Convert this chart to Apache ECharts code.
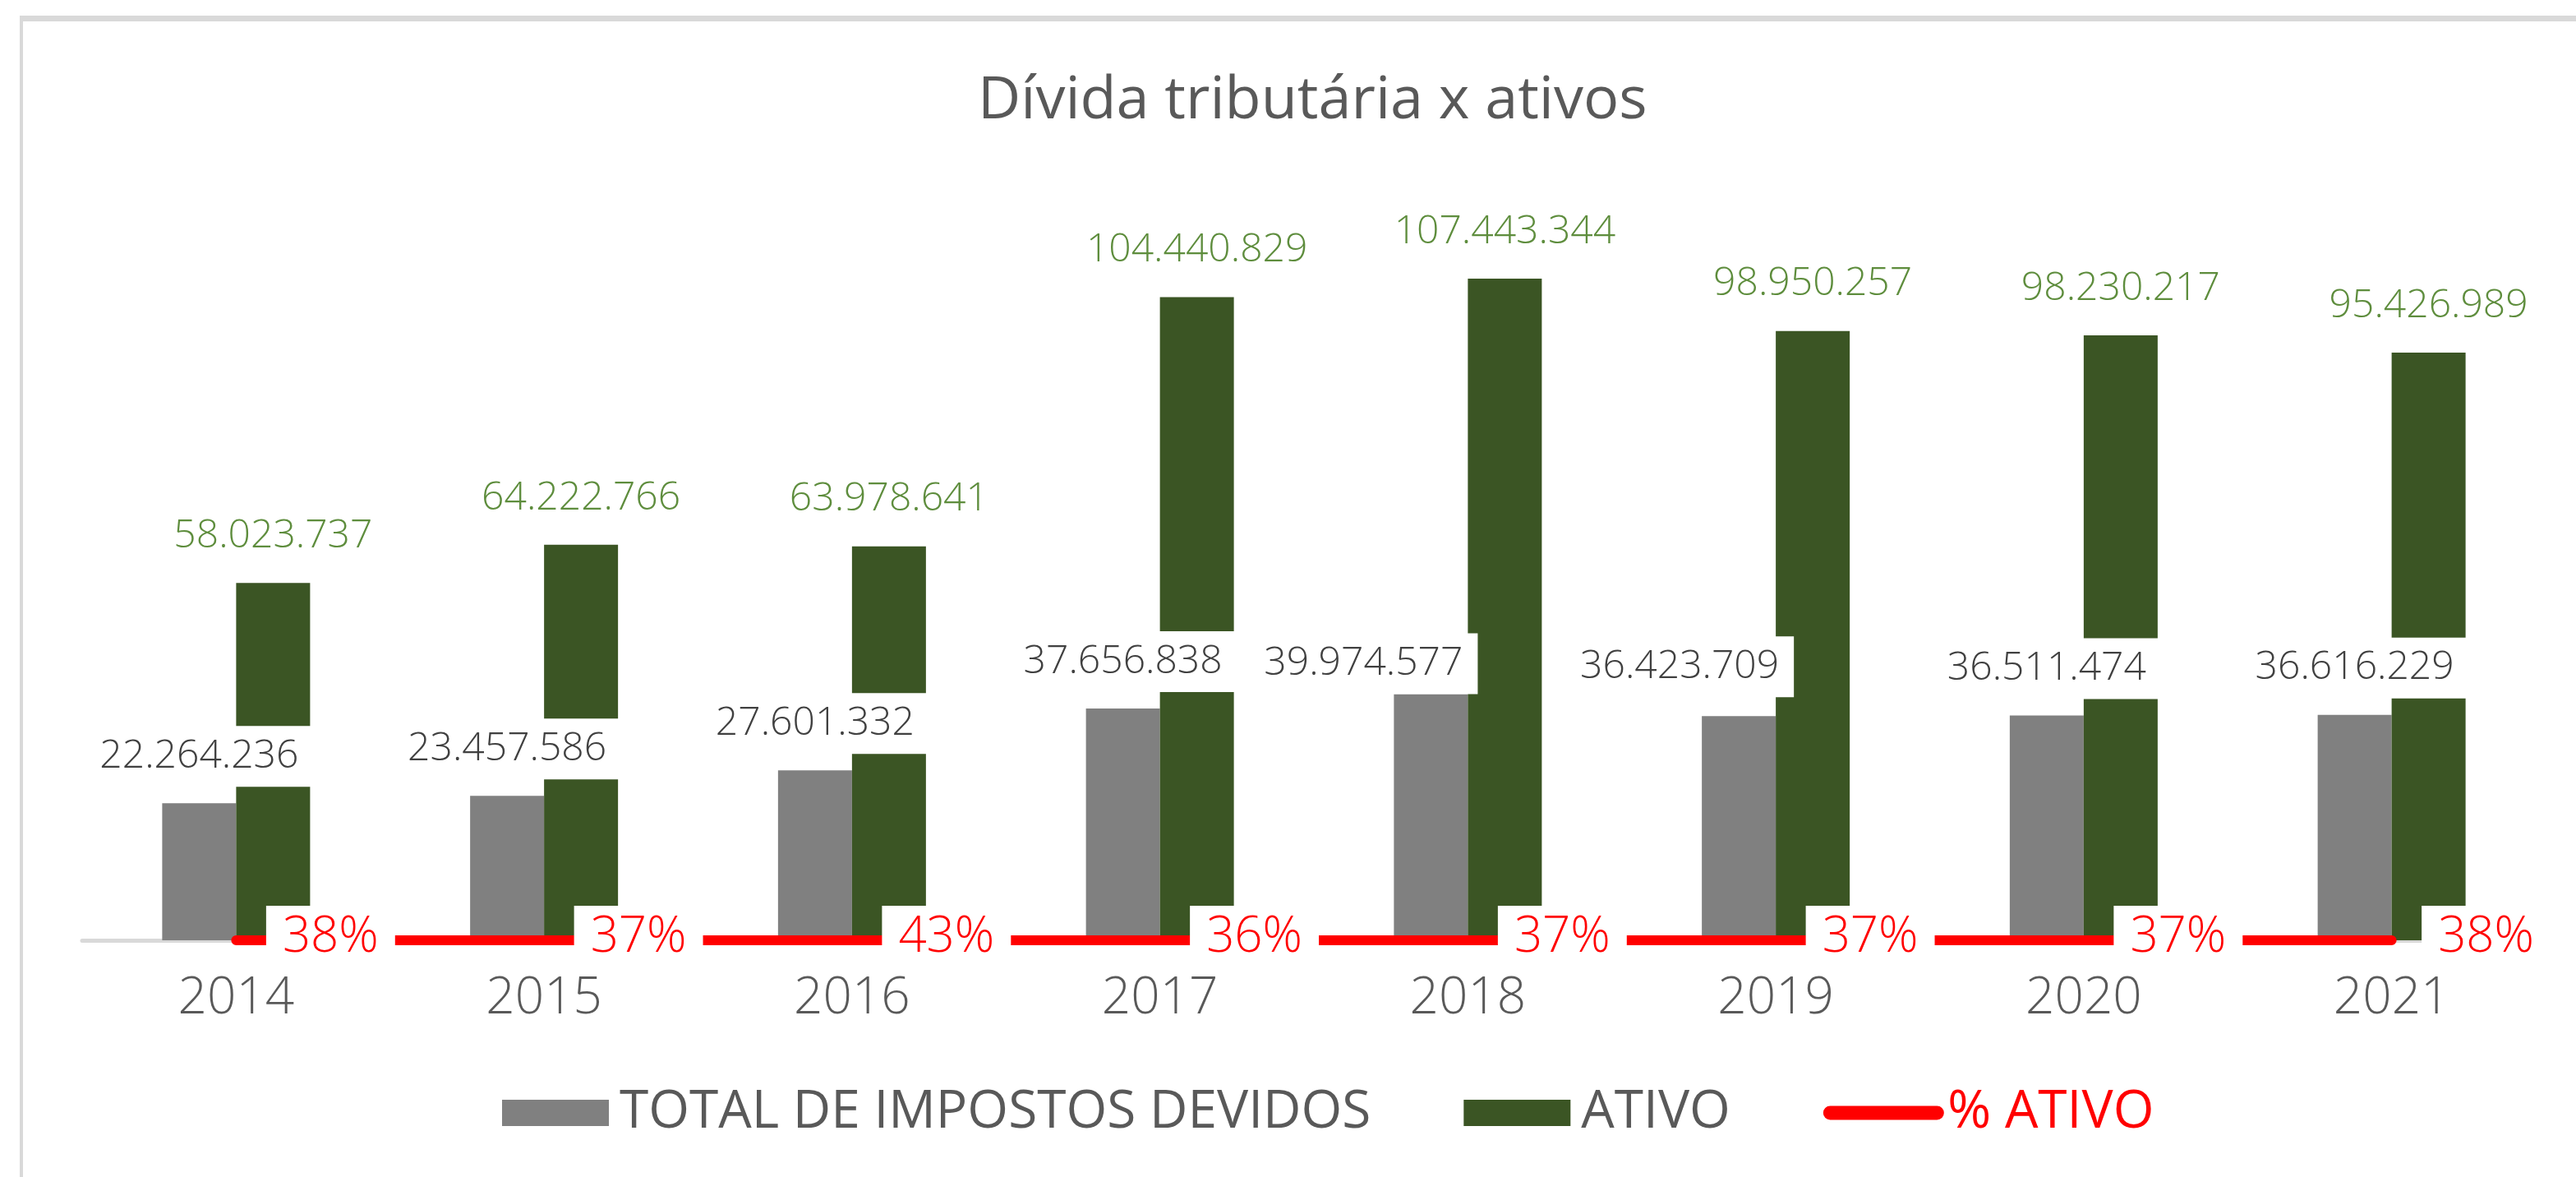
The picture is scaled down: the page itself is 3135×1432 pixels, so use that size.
<!DOCTYPE html>
<html>
<head>
<meta charset="utf-8">
<script src="https://cdn.jsdelivr.net/npm/echarts@6/dist/echarts.min.js"></script>
<style>
  html, body { margin: 0; padding: 0; background: #ffffff; }
  #chart { width: 3135px; height: 1432px; }
</style>
</head>
<body>
<div id="chart"></div>
<script>
// ---- data ----
const years = ['2014', '2015', '2016', '2017', '2018', '2019', '2020', '2021'];
const totalImpostos = [22264236, 23457586, 27601332, 37656838, 39974577, 36423709, 36511474, 36616229];
const ativo = [58023737, 64222766, 63978641, 104440829, 107443344, 98950257, 98230217, 95426989];
const pctAtivo = [38, 37, 43, 36, 37, 37, 37, 38];
const seriesNames = ['TOTAL DE IMPOSTOS DEVIDOS', 'ATIVO', '% ATIVO'];

// manual label nudges (as moved in the original chart)
const grayLabelShift = [[0, 0], [0, 0], [0, 0], [0, 0], [-82, 20], [-72, -3], [0, 0], [0, 0]];

const FONT = '"Open Sans", "Noto Sans", sans-serif';
function fmt(v) {
  return String(v).replace(/\B(?=(\d{3})+(?!\d))/g, '.');
}

const chart = echarts.init(document.getElementById('chart'), null, { renderer: 'canvas' });

const grayData = totalImpostos.map((v, i) => ({
  value: v,
  label: { offset: grayLabelShift[i] }
}));

const option = {
  backgroundColor: '#ffffff',
  animation: false,
  title: {
    text: 'Dívida tributária x ativos',
    left: 1185,
    top: 82,
    textStyle: { fontFamily: FONT, fontSize: 72, fontWeight: 'normal', color: '#595959' }
  },
  graphic: [
    { type: 'rect', shape: { x: 24, y: 19, width: 3111, height: 7 }, style: { fill: '#d9d9d9' }, silent: true },
    { type: 'rect', shape: { x: 24, y: 19, width: 4, height: 1413 }, style: { fill: '#d9d9d9' }, silent: true }
  ],
  legend: {
    left: 606,
    top: 1317,
    itemWidth: 130,
    itemHeight: 32,
    itemGap: 113,
    textStyle: { fontFamily: FONT, fontSize: 64, color: '#595959', fontWeight: 'normal', padding: [0, 0, 0, 8] },
    data: [
      { name: seriesNames[0], icon: 'rect' },
      { name: seriesNames[1], icon: 'rect' },
      {
        name: seriesNames[2],
        textStyle: { color: '#ff0000' },
        itemStyle: { opacity: 0 },
        lineStyle: { width: 17, cap: 'round', color: '#ff0000' }
      }
    ]
  },
  grid: { left: 100, right: 37, top: 245, bottom: 288, containLabel: false },
  xAxis: {
    type: 'category',
    data: years,
    axisLine: { show: true, lineStyle: { color: '#d9d9d9', width: 5 } },
    axisTick: { show: false },
    axisLabel: { fontFamily: FONT, fontSize: 62, color: '#595959', margin: 40, fontWeight: 300 }
  },
  yAxis: {
    type: 'value',
    min: 0,
    max: 120000000,
    show: false,
    splitLine: { show: false }
  },
  series: [
    {
      name: seriesNames[0],
      type: 'bar',
      barWidth: 90,
      barGap: '0%',
      itemStyle: { color: '#808080' },
      data: grayData,
      label: {
        show: true,
        position: 'top',
        distance: 20,
        fontFamily: FONT,
        fontSize: 48,
        lineHeight: 48,
        fontWeight: 300,
        color: '#404040',
        backgroundColor: '#ffffff',
        padding: [13, 18],
        formatter: p => fmt(p.value)
      }
    },
    {
      name: seriesNames[1],
      type: 'bar',
      barWidth: 90,
      barGap: '0%',
      itemStyle: { color: '#3b5524' },
      data: ativo,
      label: {
        show: true,
        position: 'top',
        distance: 33,
        fontFamily: FONT,
        fontSize: 48,
        lineHeight: 48,
        fontWeight: 300,
        color: '#5e8d3d',
        formatter: p => fmt(p.value)
      }
    },
    {
      name: seriesNames[2],
      type: 'line',
      data: pctAtivo.map(v => v / 100),
      symbol: 'circle',
      symbolSize: 1,
      showSymbol: true,
      itemStyle: { color: '#ff0000' },
      lineStyle: { color: '#ff0000', width: 12, cap: 'round' },
      z: 3,
      label: {
        show: true,
        position: 'right',
        distance: 36,
        offset: [0, -3],
        fontFamily: FONT,
        fontSize: 60,
        lineHeight: 60,
        fontWeight: 300,
        color: '#ff0000',
        backgroundColor: '#ffffff',
        padding: [14, 20, 4, 20],
        formatter: p => pctAtivo[p.dataIndex] + '%'
      }
    }
  ]
};

chart.setOption(option);
</script>
</body>
</html>
